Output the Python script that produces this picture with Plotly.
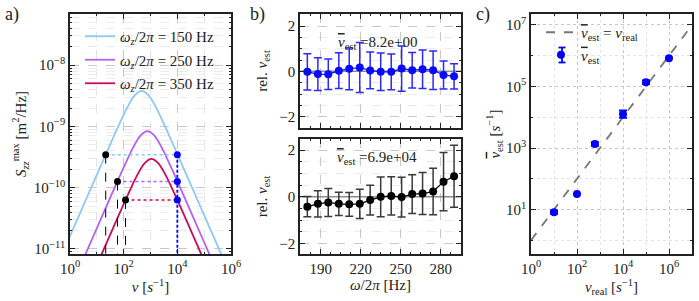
import numpy as np
import plotly.graph_objects as go

# ---------------- data ----------------
# panel a: curves (log10 nu, log10 S)
blue_lognu = [-0.33, 0.67, 1.17, 1.67, 1.92, 2.17, 2.42, 2.67, 2.92, 3.17, 3.42, 3.67, 4.17, 4.67, 5.67, 6.17]
blue_logS = [-11.119, -10.119, -9.619, -9.123, -8.883, -8.660, -8.488, -8.42, -8.488, -8.660, -8.883, -9.123, -9.619, -10.119, -11.119, -11.619]
purple_lognu = [-0.115, 0.885, 1.385, 1.885, 2.135, 2.385, 2.635, 2.885, 3.135, 3.385, 3.635, 3.885, 4.385, 4.885, 5.885]
purple_logS = [-11.776, -10.776, -10.276, -9.780, -9.540, -9.317, -9.145, -9.077, -9.145, -9.317, -9.540, -9.780, -10.276, -10.776, -11.776]
red_lognu = [0.535, 1.035, 1.535, 2.035, 2.285, 2.535, 2.785, 3.035, 3.285, 3.535, 3.785, 4.035, 4.535, 5.035, 5.535]
red_logS = [-11.729, -11.229, -10.729, -10.233, -9.993, -9.770, -9.598, -9.53, -9.598, -9.770, -9.993, -10.233, -10.729, -11.229, -11.729]
curve_labels = ["150", "250", "350"]
curve_colors = ["#8cc8f8", "#b460f2", "#cc0a5a"]
# marker dots (left = black, right = blue at nu = 1e4)
dot_left_lognu = [1.33, 1.77, 2.07]
dot_right_lognu = [4.0, 4.0, 4.0]
dot_logS = [-9.46, -9.90, -10.20]
floor_logS = -12.0

# tick labels
a_xtick_exp = [0, 2, 4, 6]
a_ytick_exp = [-11, -10, -9, -8]
c_xtick_exp = [0, 2, 4, 6]
c_ytick_exp = [1, 3, 5, 7]

# panel b
omega = [180.0, 187.9, 195.7, 203.6, 211.4, 219.3, 227.1, 235.0, 242.9, 250.7, 258.6, 266.4, 274.3, 282.1, 290.0]
rel_top = [-0.02, -0.12, -0.13, 0.03, 0.11, 0.17, 0.04, -0.02, -0.02, 0.12, 0.05, 0.09, 0.05, -0.16, -0.22]
err_top = [0.80, 0.72, 0.67, 0.79, 0.92, 1.10, 0.81, 0.83, 0.79, 1.00, 0.78, 0.85, 0.85, 0.62, 0.56]
rel_bot = [-0.42, -0.30, -0.24, -0.30, -0.32, -0.30, -0.14, 0.00, 0.04, -0.01, 0.12, 0.14, 0.23, 0.65, 0.88]
err_bot = [0.43, 0.56, 0.60, 0.50, 0.51, 0.63, 0.64, 0.85, 0.82, 0.85, 0.83, 0.90, 1.00, 1.25, 1.33]
label_top = "8.2e+00"
label_bot = "6.9e+04"

# panel c
nu_real = [10, 100, 600, 1e4, 1e5, 1e6]
nu_est = [8.2, 32, 1350, 1.26e4, 1.38e5, 8.3e5]
nu_est_logerr = [0.05, 0.0, 0.06, 0.12, 0.06, 0.0]
ref_line = [1.0, 1e7]

FONT = "Liberation Serif"
FS = 15
NUBAR = "<span style='text-decoration:overline'><i>ν</i></span>"


def pow_text(e):
    s = str(e).replace("-", "−")
    return f"10<sup>{s}</sup>"


fig = go.Figure()

# ---------- panel a ----------
curves = [(blue_lognu, blue_logS), (purple_lognu, purple_logS), (red_lognu, red_logS)]
for k, ((lx, ly), lab, col) in enumerate(zip(curves, curve_labels, curve_colors)):
    fig.add_trace(go.Scatter(
        x=10 ** np.array(lx), y=10 ** np.array(ly), mode="lines",
        line=dict(color=col, width=1.8, shape="spline"),
        name=f"<i>ω<sub>z</sub></i>/2<i>π</i> = {lab} Hz", legendgroup=f"g{k}",
        xaxis="x", yaxis="y", legend="legend"))

for i in range(3):
    xl = 10 ** dot_left_lognu[i]
    xr = 10 ** dot_right_lognu[i]
    yv = 10 ** dot_logS[i]
    fig.add_trace(go.Scatter(x=[xl, xr], y=[yv, yv], mode="lines",
                             line=dict(color=curve_colors[i], width=1.5, dash="dot"),
                             showlegend=False, xaxis="x", yaxis="y"))
    fig.add_trace(go.Scatter(x=[xl, xl], y=[yv, 10 ** floor_logS], mode="lines",
                             line=dict(color="black", width=1, dash="dash"),
                             showlegend=False, xaxis="x", yaxis="y"))
fig.add_trace(go.Scatter(x=[10 ** dot_right_lognu[0]] * 2, y=[10 ** max(dot_logS), 10 ** floor_logS],
                         mode="lines", line=dict(color="#0000ff", width=1.8, dash="3px,2px"),
                         showlegend=False, xaxis="x", yaxis="y"))
fig.add_trace(go.Scatter(x=10 ** np.array(dot_left_lognu), y=10 ** np.array(dot_logS), mode="markers",
                         marker=dict(color="black", size=7), showlegend=False, xaxis="x", yaxis="y"))
fig.add_trace(go.Scatter(x=10 ** np.array(dot_right_lognu), y=10 ** np.array(dot_logS), mode="markers",
                         marker=dict(color="#0000ff", size=7), showlegend=False, xaxis="x", yaxis="y"))

# ---------- panel b ----------
for ax in ["2", "3"]:
    fig.add_trace(go.Scatter(x=[170, 300], y=[0, 0], mode="lines", line=dict(color="#8c8c8c", width=1.5),
                             showlegend=False, xaxis="x" + ax, yaxis="y" + ax))
fig.add_trace(go.Scatter(x=omega, y=rel_top, mode="lines+markers",
                         line=dict(color="#0a0aff", width=1.2), marker=dict(color="#0a0aff", size=8),
                         error_y=dict(type="data", array=err_top, color="#2a2aff", thickness=1.5, width=4),
                         showlegend=False, xaxis="x2", yaxis="y2"))
fig.add_trace(go.Scatter(x=omega, y=rel_bot, mode="lines+markers",
                         line=dict(color="black", width=1.2), marker=dict(color="black", size=8),
                         error_y=dict(type="data", array=err_bot, color="#3a3a3a", thickness=1.5, width=4),
                         showlegend=False, xaxis="x3", yaxis="y3"))

# ---------- panel c ----------
fig.add_trace(go.Scatter(x=ref_line, y=ref_line, mode="lines",
                         line=dict(color="#777777", width=1.8, dash="dash"),
                         name=f"{NUBAR}<sub>est</sub> = <i>ν</i><sub>real</sub>", legendgroup="c1",
                         xaxis="x4", yaxis="y4", legend="legend2"))
ne = np.array(nu_est)
le = np.array(nu_est_logerr)
fig.add_trace(go.Scatter(x=nu_real, y=nu_est, mode="markers",
                         marker=dict(color="#0000ff", size=8),
                         error_y=dict(type="data", symmetric=False,
                                      array=ne * (10 ** le - 1), arrayminus=ne * (1 - 10 ** (-le)),
                                      color="#0000ff", thickness=1.8, width=4),
                         name=f"{NUBAR}<sub>est</sub>", legendgroup="c2",
                         xaxis="x4", yaxis="y4", legend="legend2"))


# ---------- axes ----------
def px_x(p):
    return p / 699.0


def px_y(p):
    return 1 - p / 301.0


def style(**kw):
    d = dict(showline=True, linecolor="#222222", linewidth=1.5, mirror="allticks",
             ticks="inside", ticklen=5, tickcolor="#222222", tickwidth=1,
             showgrid=True, gridcolor="#c8c8c8", griddash="dash", gridwidth=1,
             zeroline=False, automargin=False, tickfont=dict(family=FONT, size=FS, color="#222222"),
             title_font=dict(family=FONT, size=FS, color="#222222"))
    d.update(kw)
    return d


def log_minor(lo, hi, digits, color, dash):
    vals = [d * 10.0 ** n for n in range(lo, hi + 1) for d in digits]
    return dict(tickmode="array", tickvals=vals, ticks="inside", ticklen=2.5, tickcolor="#222222",
                showgrid=True, gridcolor=color, griddash=dash)


fig.update_layout(
    width=699, height=301, margin=dict(l=0, r=0, t=0, b=0, pad=0, autoexpand=False),
    paper_bgcolor="white", plot_bgcolor="white",
    font=dict(family=FONT, size=FS, color="#222222"),
    xaxis=style(type="log", range=[0, 6], tickmode="array",
                tickvals=[10.0 ** e for e in a_xtick_exp], ticktext=[pow_text(e) for e in a_xtick_exp],
                domain=[px_x(70), px_x(231)], anchor="y",
                minor=log_minor(-1, 6, [1], "#e4e4e4", "dash"),
                title=dict(text="<i>ν</i> [<i>s</i><sup>−1</sup>]", standoff=4)),
    yaxis=style(type="log", range=[-11.082, -7.164], tickmode="array",
                tickvals=[10.0 ** e for e in a_ytick_exp], ticktext=[pow_text(e) for e in a_ytick_exp],
                domain=[px_y(254), px_y(14)], anchor="x",
                minor=log_minor(-12, -8, [2, 3, 4, 5, 6, 7, 8, 9], "#ececec", "dash"),
                title=dict(text="<i>S</i><sub><i>zz</i></sub><sup>max</sup> [m<sup>2</sup>/Hz]", standoff=4)),
    xaxis2=style(range=[174.5, 295.2], dtick=30, tick0=190, domain=[px_x(300), px_x(461)],
                 anchor="y2", showticklabels=False, matches="x3",
                 minor=dict(dtick=7.5, tick0=190, ticks="inside", ticklen=2.5, showgrid=False)),
    yaxis2=style(range=[-2.5, 2.53], tickvals=[-2, 0, 2], ticktext=["−2", "0", "2"],
                 domain=[px_y(128), px_y(14)], anchor="x2",
                 minor=dict(dtick=0.5, tick0=0, ticks="inside", ticklen=2.5, showgrid=True,
                            gridcolor="#ececec", griddash="dash"),
                 title=dict(text="rel. <i>ν</i><sub>est</sub>", standoff=8)),
    xaxis3=style(range=[174.5, 295.2], dtick=30, tick0=190, domain=[px_x(300), px_x(461)],
                 anchor="y3",
                 minor=dict(dtick=7.5, tick0=190, ticks="inside", ticklen=2.5, showgrid=False),
                 title=dict(text="<i>ω</i>/2<i>π</i> [Hz]", standoff=4)),
    yaxis3=style(range=[-2.45, 2.48], tickvals=[-2, 0, 2], ticktext=["−2", "0", "2"],
                 domain=[px_y(254), px_y(139)], anchor="x3",
                 minor=dict(dtick=0.5, tick0=0, ticks="inside", ticklen=2.5, showgrid=True,
                            gridcolor="#ececec", griddash="dash"),
                 title=dict(text="rel. <i>ν</i><sub>est</sub>", standoff=8)),
    xaxis4=style(type="log", range=[0, 7], tickmode="array", griddash="dot",
                 tickvals=[10.0 ** e for e in c_xtick_exp], ticktext=[pow_text(e) for e in c_xtick_exp],
                 domain=[px_x(531), px_x(692)], anchor="y4",
                 minor=log_minor(0, 7, [1], "#e4e4e4", "dot"),
                 title=dict(text="<i>ν</i><sub>real</sub> [<i>s</i><sup>−1</sup>]", standoff=4)),
    yaxis4=style(type="log", range=[-0.445, 7.357], tickmode="array", griddash="dot",
                 tickvals=[10.0 ** e for e in c_ytick_exp], ticktext=[pow_text(e) for e in c_ytick_exp],
                 domain=[px_y(254), px_y(14)], anchor="x4",
                 minor=log_minor(0, 7, [1], "#e4e4e4", "dot"),
                 title=dict(text=f"{NUBAR}<sub>est</sub> [<i>s</i><sup>−1</sup>]", standoff=2)),
    legend=dict(x=px_x(80), y=px_y(20), xanchor="left", yanchor="top", bgcolor="rgba(0,0,0,0)",
                font=dict(family=FONT, size=FS), tracegroupgap=1, itemwidth=30),
    legend2=dict(x=px_x(541), y=px_y(16), xanchor="left", yanchor="top", bgcolor="rgba(0,0,0,0)",
                 font=dict(family=FONT, size=FS), tracegroupgap=0, itemwidth=30),
)

# error-bar glyph for the panel-c legend entry
gx, gy0, gy1, cap = 562, 47.5, 62.5, 3.5
leg_shapes = [
    dict(type="line", xref="paper", yref="paper", x0=px_x(gx), x1=px_x(gx), y0=px_y(gy0), y1=px_y(gy1),
         line=dict(color="#0000ff", width=1.8)),
    dict(type="line", xref="paper", yref="paper", x0=px_x(gx - cap), x1=px_x(gx + cap), y0=px_y(gy0),
         y1=px_y(gy0), line=dict(color="#0000ff", width=1.8)),
    dict(type="line", xref="paper", yref="paper", x0=px_x(gx - cap), x1=px_x(gx + cap), y0=px_y(gy1),
         y1=px_y(gy1), line=dict(color="#0000ff", width=1.8)),
]

ann = [
    dict(text="a)", x=px_x(3), y=px_y(15), xref="paper", yref="paper", xanchor="left", yanchor="middle",
         showarrow=False, font=dict(family=FONT, size=18)),
    dict(text="b)", x=px_x(248), y=px_y(15), xref="paper", yref="paper", xanchor="left", yanchor="middle",
         showarrow=False, font=dict(family=FONT, size=18)),
    dict(text="c)", x=px_x(474), y=px_y(15), xref="paper", yref="paper", xanchor="left", yanchor="middle",
         showarrow=False, font=dict(family=FONT, size=18)),
    dict(text=f"{NUBAR}<sub>est</sub> =" + label_top, x=px_x(377), y=px_y(32), xref="paper", yref="paper",
         showarrow=False, font=dict(family=FONT, size=FS)),
    dict(text=f"{NUBAR}<sub>est</sub> =" + label_bot, x=px_x(377), y=px_y(158), xref="paper", yref="paper",
         showarrow=False, font=dict(family=FONT, size=FS)),
]
fig.update_layout(annotations=ann, shapes=leg_shapes)

fig.write_html("out.html")
